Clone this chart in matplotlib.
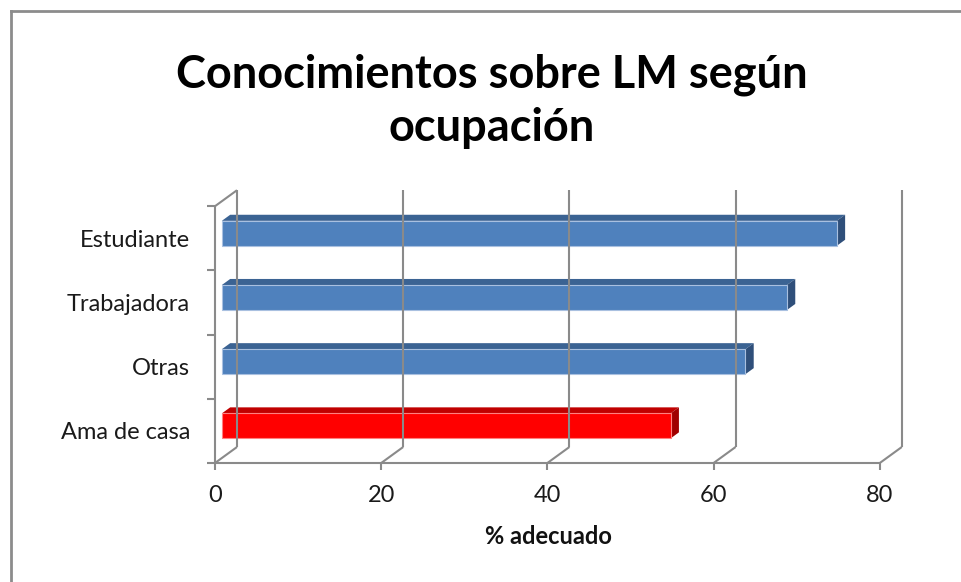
import matplotlib
matplotlib.use("Agg")
import matplotlib.pyplot as plt
from matplotlib.patches import Polygon
from matplotlib.lines import Line2D

# ---- data ----
categories = ["Ama de casa", "Otras", "Trabajadora", "Estudiante"]
values = [54, 63, 68, 74]
bar_colors = ["red", "blue", "blue", "blue"]
xticks = [0, 20, 40, 60, 80]
title_lines = ["Conocimientos sobre LM según", "ocupación"]
xlabel = "% adecuado"

FONT = ["Lato", "DejaVu Sans"]
plt.rcParams["font.family"] = FONT

W, H = 962, 582
fig = plt.figure(figsize=(W / 100, H / 100), dpi=100)

# pixel layout
px_x0, px_y0 = 215, 463        # front origin (value 0, bottom boundary)
sx = 8.31                      # px per value unit
sy = 64.2                      # px per category
xmax, ymin, ymax = 84, -0.5, 3.85
ax = fig.add_axes([px_x0 / W, (H - px_y0) / H, xmax * sx / W, (ymax - ymin) * sy / H])
ax.set_xlim(0, xmax)
ax.set_ylim(ymin, ymax)
for s in ax.spines.values():
    s.set_visible(False)
ax.patch.set_visible(False)

DX = 22 / sx
DY = 16 / sy
grid_c = "#8a8a8a"
lw = 1.5

def ln(xs, ys, **kw):
    ax.add_line(Line2D(xs, ys, color=grid_c, lw=lw, clip_on=False, solid_capstyle="butt", **kw))

# back wall gridlines + floor diagonals
for t in xticks:
    ln([t + DX, t + DX], [-0.5 + DY, 3.5 + DY])
    ln([t, t + DX], [-0.5, -0.5 + DY])
# left wall top diagonal
ln([0, DX], [3.5, 3.5 + DY])
# front axes
ln([0, 0], [-0.5, 3.5])
ln([0, xticks[-1]], [-0.5, -0.5])
for b in [-0.5, 0.5, 1.5, 2.5, 3.5]:
    ln([0, -8 / sx], [b, b])
for t in xticks:
    ln([t, t], [-0.5, -0.5 - 7 / sy])

# bars
palette = {
    "blue": ("#4f81bd", "#3b6393", "#2f4f7a", "#a9c0e0"),
    "red": ("#ff0000", "#c00000", "#a00000", "#ff8080"),
}
d0, d1 = 0.31, 0.69
h = 25 / sy
for i, (v, c) in enumerate(zip(values, bar_colors)):
    front, top, side, edge = palette[c]
    yb = i - h / 2
    yt = i + h / 2
    fx0 = d0 * DX
    bx0 = d1 * DX
    ax.add_patch(Polygon([(fx0, yt + d0 * DY), (v + fx0, yt + d0 * DY),
                          (v + bx0, yt + d1 * DY), (bx0, yt + d1 * DY)],
                         closed=True, fc=top, ec="none", clip_on=False))
    ax.add_patch(Polygon([(v + fx0, yb + d0 * DY), (v + bx0, yb + d1 * DY),
                          (v + bx0, yt + d1 * DY), (v + fx0, yt + d0 * DY)],
                         closed=True, fc=side, ec="none", clip_on=False))
    ax.add_patch(Polygon([(fx0, yb + d0 * DY), (v + fx0, yb + d0 * DY),
                          (v + fx0, yt + d0 * DY), (fx0, yt + d0 * DY)],
                         closed=True, fc=front, ec=edge, lw=0.8, clip_on=False))

# ticks & labels
ax.set_yticks(range(len(categories)))
ax.set_yticklabels(categories, fontsize=17, color="#1a1a1a")
ax.set_xticks(xticks)
ax.set_xticklabels([str(t) for t in xticks], fontsize=17, color="#1a1a1a")
ax.tick_params(axis="y", length=0, pad=18)
ax.tick_params(axis="x", length=0, pad=16)

fig.text(548 / W, 1 - 537 / H, xlabel, ha="center", va="center",
         fontsize=17, fontweight="bold", color="#111111")
fig.text(492 / W, 1 - 88 / H, title_lines[0], ha="center", va="baseline",
         fontsize=32.5, fontweight="bold", color="black")
fig.text(492 / W, 1 - 141 / H, title_lines[1], ha="center", va="baseline",
         fontsize=32.5, fontweight="bold", color="black")

# chart border (top and left visible)
fig.add_artist(Line2D([11 / W, 1], [1 - 11 / H, 1 - 11 / H], color="#8c8c8c", lw=2,
                      transform=fig.transFigure))
fig.add_artist(Line2D([11 / W, 11 / W], [0, 1 - 11 / H], color="#8c8c8c", lw=2,
                      transform=fig.transFigure))

fig.savefig("out.png", dpi=100, facecolor="white")
